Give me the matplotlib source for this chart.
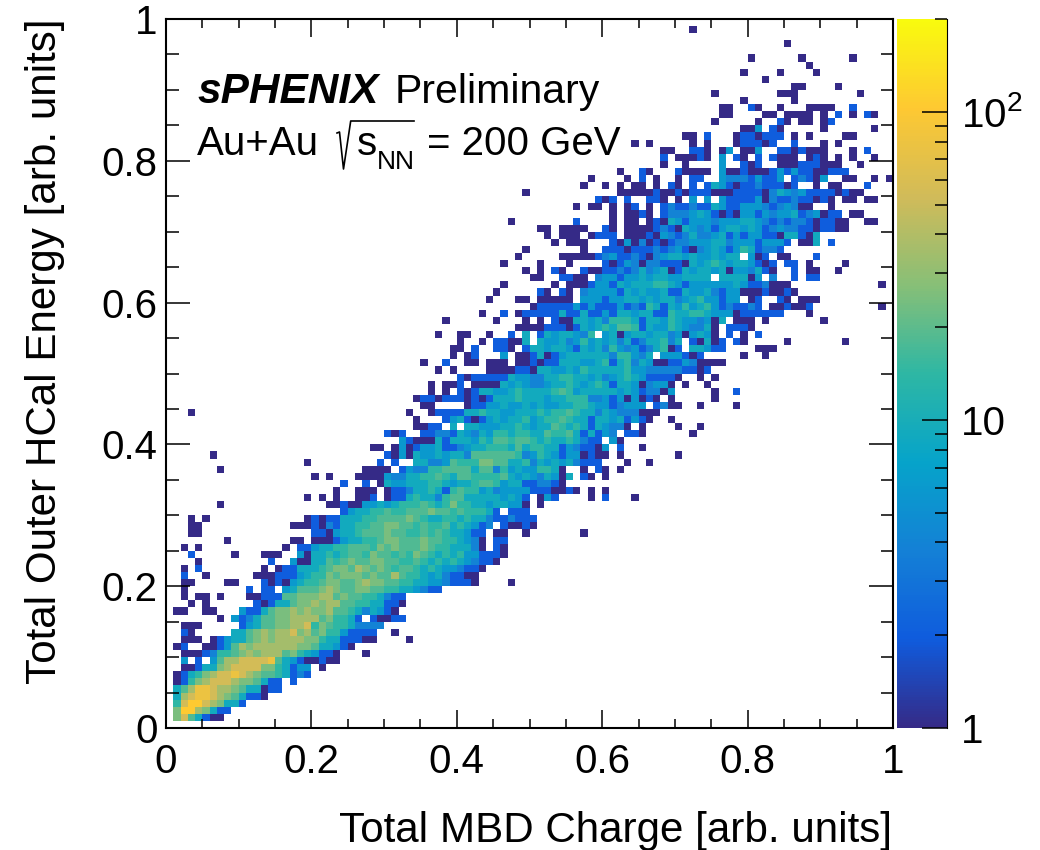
import numpy as np
import matplotlib
matplotlib.use('Agg')
import matplotlib.pyplot as plt
from matplotlib.colors import LinearSegmentedColormap, LogNorm
from matplotlib.lines import Line2D

plt.rcParams['font.family'] = ['Liberation Sans', 'DejaVu Sans']
plt.rcParams['mathtext.fontset'] = 'custom'
plt.rcParams['mathtext.rm'] = 'Liberation Sans'
plt.rcParams['mathtext.it'] = 'Liberation Sans'

# 2D histogram, one string per y bin (bottom row first).
# Each character is a colour level, '.' is an empty bin, see level_codes.
level_codes = '123456789abcd'
level_counts = [1, 2, 2, 4, 6, 9, 14, 18, 25, 35, 55, 80, 105]

hist_rows = [
    '',
    '.' + '9b86311',
    '.' + '9dda9633',
    '.' + '7bddba9663',
    '.' + '6abccba986331',
    '.' + '68accbaa9866133',
    '.' + '1379abbba998633.3',
    '.' + '13679abbcba98876343',
    '.' * 2 + '113669abbbb997635 5.1',
    '.' * 2 + '5.3.58aabbbbc865311211',
    '.' * 2 + '1113 477 89a9aaa89765331...1',
    '.' + '13..11258a9aaaaaa9986653 1',
    '.' * 2 + '111.135668 9a9aaaa9976 63331 1....1',
    '.' * 2 + '21.....668 9a9aab9a8977 53333..1',
    '.' * 2 + '111.....3568 8 99aab7 98 77 64444',
    '.' * 7 + '1.53468899aaaa89 7763.311 33',
    '.' + '11..11...5336 899a9a99a8 876 4 6 531',
    '.' * 3 + '1.1......313 668 99a9aa8 8776 6 331',
    '.' * 2 + '1.11.1...1133 38 899 9aa8 98 8 776 4 33',
    '.' * 2 + '1........3.33.56888 9a98 89 9 887 7 6 6 5 4 3 3',
    '.' * 2 + '11....11...3131 56778 99 8 89a 99 8 8 7 7 6 6 5 5 4 3 3 3 1....1',
    '.' * 2 + '3..1......1113335 677 98 999 898 8 a 8 7 7 6 5 6 4 3 3 1 1',
    '.' * 2 + '1.3........1.1336 667 899 8a 98 9 8 7 8 8 7 6 7 6 5 5 4 3 3 1',
    '.' * 4 + '1.........3..51 1668 78 98 8 9 9 8 8 7 7 8 7 6 7 6 7 6 5 4 3 3 1',
    '.' * 3 + '3.....1...111..51 6676 7 8 8 7 9 8 8 7 8 7 9 8 7 6 7 6 7 5 5 3 3 3 1',
    '.' * 2 + '1.1...........1.335 667 7 888 7 9 8 9 8 8 8 9 8 7 7 6 6 6 4 1.31',
    '.' * 8 + '1........11.1113 566 77 8 99 8 8 8 9 8 8 7 7 6 5 4 1.33',
    '.' * 3 + '11...............3315 667 8 8 8 9 8 8 7 7 8 7 8 7 6 6 5 3 3.11..1.......1',
    '.' * 3 + '11............1113 14 366 77 8 8 99 8 8 7 8 7 7 8 6 7 6 5 34.3113 1',
    '.' * 3 + '1.1.............1313 3666 77 8 8 8 8 9 8 7 6 6 7 7 6 7 6 6 4 3 3 4 3 3 3',
    '.' * 24 + '3566 77 8 77 8 8 8 9 8 8 7 8 7 7 7 6 3.3 3 3',
    '.' * 7 + '1..............11 3 1 1 5 5 6 5 6 7 7 7 8 7 6 7 9 7 7 6 6 5 6 6 5 5 1.1',
    '.' * 19 + '1.1.1..11 3.1 3 3 6 7 6 6 4 7 8 8 6 6 6 6 6 5 6 5 3.1 5 3....1',
    '.' * 23 + '1..111.1 3 3 4 6 6 7 6 3 7 8 7 7 5 6 4 5 5 5 5 3 3 3 1 1 3 1.1',
    '.' * 24 + '3..3.1 6 5 5 6 6 6 7 7 6 5 6 6 7 8 8 7 5 6 6 3 3 4 4 3 1',
    '.' * 20 + '1.1...1' + '111 5 4 4 6 6 7 7 8 7 6 8 8 7 7 7 7 8 6 5 6 5 4 6 5 1 6.3 1',
    '.' * 7 + '1' + '.' * 19 + '1111.3 5 4 4 7 7 8 8 8 8 6 8 8 4 7 5 6 5 5 7 7 6 1..1.3',
    '.' * 19 + '1' + '.' * 9 + '3.3..6 6 4 4 5 8 7 7 7 9 9 8 8 6 6 7 4 6 5 6 5 6 4 3 3 3',
    '.' * 6 + '1' + '.' * 23 + '3 1 5 1 6 5 5 6 5 6 6 4 8 8 8 8 8 8 7 4 5 7 6 5 3 5 5 1 3 1',
    '.' * 28 + '11.1 5 1 3 5 5 6 3 3 4 5 6 6 7 7 7 6 8 6 7 7 6 6 3 5 4 3 3 1',
    '.' * 32 + '5 3 1 1 1 6 3 6 6 6 5 7 6 8 8 7 8 8 7 6 7 6 6 7 6 4 3 3',
    '.' * 30 + '3 1 3..3 3 4 4 3 6 5 4 6 5 7 7 6 7 7 6 6 8 7 7 8 6 3 6 3 3',
    '.' * 34 + '1 1 3 3.6.6 6 5 5 5 6 6 7 6 5 6 6 8 7 6 7 6 3 6',
    '.' * 34 + '1...3 5 6 3 1 3 5 6 5 6 6 7 5 6 7 7 8 7 6 6 3 6',
    '.' * 3 + '1' + '.' * 29 + '1..1 3 3 3 3 6 6 7 6 6 5 5 6 6 6 7 6 7 7 8 7 6 6 4',
    '.' * 35 + '11....1 3 3 5 5 6 5 5 6 5 6 5 5 6 6 7 7 6 5 6',
    '.' * 34 + '1 3 3 1 3 3 3 1 3 1 3 6 6 6 7 6 6 6 5 6 6 7 7 7 4 4',
    '.' * 36 + '1.1.3 1 3 6 6 5 5 6 7 6 6 6 6 7 8 7 5 6 6 6',
    '.' * 36 + '1.1 1 3.1 1 1 1 6 5 6 5 4 4 5 6 6 7 6 5 6 7',
    '.' * 40 + '3 1 3 3 3 3 3 6 5 5 4 4 6 6 7 7 6 6 5 6',
    '.' * 37 + '1.1....1 1 1 1 3 3 1 6 6 5 5 6 5 7 6 6 5 6 7',
    '.' * 35 + '1..3..1 1.1 1 1.1 1 3 1 3 3 6 6 6 5 5 6',
    '.' * 39 + '1.1 3...5.1 1 3 6 1 3 5 6 6 6 6 6',
    '.' * 39 + '1 1.3..3 3 1.3 6 6 5 6 6 5 3 6 5 6',
    '.' * 40 + '1..1.3 3 1 1 6.6 5 5 6 4 5 7 5 6',
    '.' * 37 + '1..1 1..1..3.6.3 6 5 6 6 5 4 7.5',
    '.' * 48 + '1 1 1 1 3 3 3 1 3 6 5 6',
    '.' * 38 + '1......1...1.1.3 1 1 6 6 5 6 4',
    '.' * 43 + '1..3.1 3 3 3 3 3 6 3 3 6 3 3',
    '.' * 50 + '1 3 3 3 3 3 5 3 5 3',
    '.' * 44 + '1...1 1.1 1 1 1 1.5 5 5',
    '.' * 45 + '1.....31.3' + '1.4 5 5',
    '.' * 46 + '1......1.' + '1 1 1 3 5',
    '.' * 50 + '11..3' + '3 1 1.4',
    '.' * 49 + '1.1.31' + '..' + '3 1 1',
    '.' * 46 + '1....1' + '...' + '1....',
    '.' * 48 + '1.....1' + '1 1 1 1 3',
    '.' * 49 + '1' + '.' * 7 + '1..3 3 3 1 3 3 3 4 3 4 5 3 1 4 5 6 5 3 5 7 6 3 4 4 3',
    '.' * 53 + '1.1' + '1 1...3 1 5 1 4 1 3 1 3 4 4 5 5 5 6 6 4 5 5 5 3 5 5 5 3.1 1 6.3',
    '.' * 52 + '1.1' + '1 1.1 3 3 3.1 1 1 3 1 5 4 3 4 6 4 4 5 6 3 5 3 5 5 3 3 1 6 6 3 1 6',
    '.' * 51 + '11.1' + '1 1 1..3 1.1 1 1 1 3 4 3 1 6 5 4 5 3 5 6 6 5 6 5 3 4 5 4 4 3 3 1 3 3 1 1',
    '.' * 47 + '1' + '.' * 8 + '3....1.1 1.1 3 1 6 5 3 5 5 5 4 5 5 5 6 6 5 4 3 4 3 4 4 3 1 3 3 1 1..1 1',
    '.' * 61 + '1.1 1 3 1.3 4 4 4 5 6 5 3 1 3 1 5 5 3 5 4 5 5 6 3 4 5 1 3 3.1 1',
    '.' * 56 + '1.1 1.1.1 3.1.3 4 3 3 4 3 3 6 5 3 3 5 5 5 4 3 4 5 4 1 1..1',
    '.' * 59 + '3 1 3.3..3 3 1.1.5.5.5 3 3 3 3 5 1 4 3 3 4 3 3 1 3 1.1 1.1 1',
    '.' * 49 + '1' + '.' * 12 + '1 1 1 1 1 3 1 1 3 1 3 3 3 1 1 1 3 3 3 3 1 4 6 5 4 5 3 3 3 3 1 3 1 1',
    '.' * 57 + '1..1.1.1 1.1.3 1.3.3 6 5 3 1 3 3 4 3 3 3 1 3..1.1 1...3',
    '.' * 58 + '1....1.3.1..1.3 3..5 4 4 4 3 5 3 3 5.3 4 3 1 5..1 1..1.1',
    '.' * 62 + '1..3 1...3 1 1 1 1.5 1 1 3 1 1 1 3 5 3 5 3 3 1 1 3 3 3',
    '.' * 68 + '1..1....5..3 1 3..1 1 1 3 3 3 1 1 1..1',
    '.' * 68 + '3.1 1 1 3 1.5.3 1.3.3 1 1 1.1 3 1.1.1..1',
    '.' * 68 + '11..3 3 1.1 5.1 1 5..3 3 1 3 1 1 1...1.3',
    '.' * 64 + '1.1.....1.1...1 3 3 3 1 3..3...1.1',
    '.' * 71 + '1 1.3...1 3 3 1 3 3 3.1.1....1 1',
    '.' * 79 + '1 1 5.3 1.....1......1',
    '.' * 75 + '1.....1..3 1.1 1.1 3',
    '.' * 76 + '11....1 1.1 1 1 1.1.3.1.3 1',
    '.' * 76 + '11..3 1..1...1 1 1 1..3',
    '.' * 79 + '1......1',
    '.' * 75 + '1........1 1 1........1',
    '.' * 86 + '11....1',
    '.' * 82 + '1',
    '.' * 79 + '1....1....1',
    '.' * 88 + '1',
    '.' * 80 + '1......1......1',
    '',
    '.' * 85 + '1',
    '',
    '.' * 72 + '1',
    '',
]

# right side of the band, y bin -> codes starting at x bin 60
tail_rows = {
    32: '3...1',
    33: '1',
    35: '1',
    36: '1.1',
    37: '...1..1',
    38: '1.1.......1',
    39: '5.3..1',
    40: '.51',
    41: '54.331......1',
    42: '5441.1....1..1',
    43: '6563531..1',
    44: '65444111',
    45: '534555.3411..1....1',
    46: '53515131.1.....1',
    47: '6656534415.....1..3',
    48: '6366514551.1..1',
    49: '45676533331..1.1',
    50: '666755444443313',
    51: '73674651133541111',
    52: '6477546.555313.....1..1',
    53: '47545346713.66533....111',
    54: '56463466746.3161 3.31.....1.......1',
    55: '561566566451565 1.3.1.3',
    56: '768873655765446 1.3331',
    57: '477763665765545 16.111.1.......1',
    58: '536656633766776 55 5 1333333...1',
    59: '3353437636575 675 3 4 3 3 4 3.1 1 3 1 1 3.........1',
    60: '35566565664567553 55. 13..31.111',
    61: '55365655633655 64 3 5 5 1 1 1 3 1 1 3 1',
    62: '5365666776535555 5 5 6 5 3 3 4 1 1 1............1',
    63: '55355656655666 6.6 6 6 6 1 5.4..3.33',
    64: '3343464561365665 6 1 5 5 4 6 3 1..3.11..1',
    65: '313541443 3 3 1 6 5 6 7 6 5 6 6 5 3 1 3.33.1....1',
    66: '45334314 5 6 6 5 6 5 5 6 5 6 6.5 1 3.11...3',
}

x_ticks = [0, 0.2, 0.4, 0.6, 0.8, 1]
x_tick_labels = ['0', '0.2', '0.4', '0.6', '0.8', '1']
cbar_ticks = [1, 10, 100]
cbar_labels = ['1', '10', r'$\mathregular{10^{2}}$']
cbar_minor = [2, 3, 4, 5, 6, 7, 8, 9, 20, 30, 40, 50, 60, 70, 80, 90, 200]

# ROOT kBird palette
bird = [(0.2082, 0.1664, 0.5293), (0.0592, 0.3599, 0.8684), (0.0780, 0.5041, 0.8385),
        (0.0232, 0.6419, 0.7914), (0.1802, 0.7178, 0.6425), (0.5301, 0.7492, 0.4662),
        (0.8186, 0.7328, 0.3499), (0.9956, 0.7862, 0.1968), (0.9764, 0.9832, 0.0539)]
cmap = LinearSegmentedColormap.from_list('bird', bird, N=255)

# spaces in the strings only keep the columns readable while typing them
counts = np.full((100, 100), np.nan)
for row, codes in enumerate(hist_rows):
    for col, ch in enumerate(codes.replace(' ', '')[:100]):
        if ch != '.':
            counts[row, col] = level_counts[level_codes.index(ch)]
for row, codes in tail_rows.items():
    counts[row, 60:] = np.nan
    for col, ch in enumerate(codes.replace(' ', '')[:40]):
        if ch != '.':
            counts[row, 60 + col] = level_counts[level_codes.index(ch)]

W, H = 1040, 850
fig = plt.figure(figsize=(W / 100, H / 100), dpi=100)
ax = fig.add_axes([166 / W, 1 - 728 / H, 727 / W, 709 / H])
cax = fig.add_axes([897 / W, 1 - 728 / H, 50 / W, 709 / H])

edges = np.linspace(0, 1, 101)
mesh = ax.pcolormesh(edges, edges, np.ma.masked_invalid(counts), cmap=cmap,
                     norm=LogNorm(vmin=1, vmax=200))

ax.set_xlim(0, 1)
ax.set_ylim(0, 1)
ax.set_xticks(x_ticks, x_tick_labels)
ax.set_yticks(x_ticks, x_tick_labels)
ax.set_xticks(np.arange(0, 1.01, 0.05), minor=True)
ax.set_yticks(np.arange(0, 1.01, 0.05), minor=True)
ax.tick_params(axis='x', which='major', direction='in', top=True, length=13, width=1.1,
               labelsize=29, pad=11)
ax.tick_params(axis='x', which='minor', direction='in', top=True, length=6.5, width=1.1)
ax.tick_params(axis='y', which='major', direction='in', right=True, length=17.5, width=1.1,
               labelsize=29, pad=6)
ax.tick_params(axis='y', which='minor', direction='in', right=True, length=9, width=1.1)
for spine in ax.spines.values():
    spine.set_linewidth(1.5)

cb = fig.colorbar(mesh, cax=cax)
cb.outline.set_visible(False)
cax.spines['right'].set_visible(True)
cax.set_yticks(cbar_ticks, cbar_labels)
cax.set_yticks(cbar_minor, [''] * len(cbar_minor), minor=True)
cax.tick_params(axis='y', which='major', direction='in', length=18, width=1.1, labelsize=29, pad=10)
cax.tick_params(axis='y', which='minor', direction='in', length=9, width=1.1)

fig.text(892 / W, 1 - 842 / H, 'Total MBD Charge [arb. units]', ha='right', va='baseline', fontsize=30.3)
fig.text(45 / W, 1 - 18 / H, 'Total Outer HCal Energy [arb. units]', rotation=90, ha='center',
         va='top', fontsize=30.3)
fig.text(198 / W, 1 - 103 / H, 'sPHENIX', fontsize=30.5, fontweight='bold', style='italic', va='baseline')
fig.text(395 / W, 1 - 103 / H, 'Preliminary', fontsize=29.5, va='baseline')

# second line is put together by hand, mathtext makes the root sign too wide
fig.text(197 / W, 1 - 155 / H, 'Au+Au', fontsize=29, va='baseline')
root_x = [337, 339.5, 343.5, 350.7, 414]
root_y = [133, 132, 169, 121, 121]
fig.add_artist(Line2D([v / W for v in root_x], [1 - v / H for v in root_y], color='k', lw=1.2,
                      transform=fig.transFigure))
fig.text(357 / W, 1 - 155 / H, 's', fontsize=29, va='baseline')
fig.text(377 / W, 1 - 169 / H, 'NN', fontsize=19, va='baseline')
fig.text(427 / W, 1 - 155 / H, '= 200 GeV', fontsize=29, va='baseline')

fig.savefig('out.png', dpi=100)
